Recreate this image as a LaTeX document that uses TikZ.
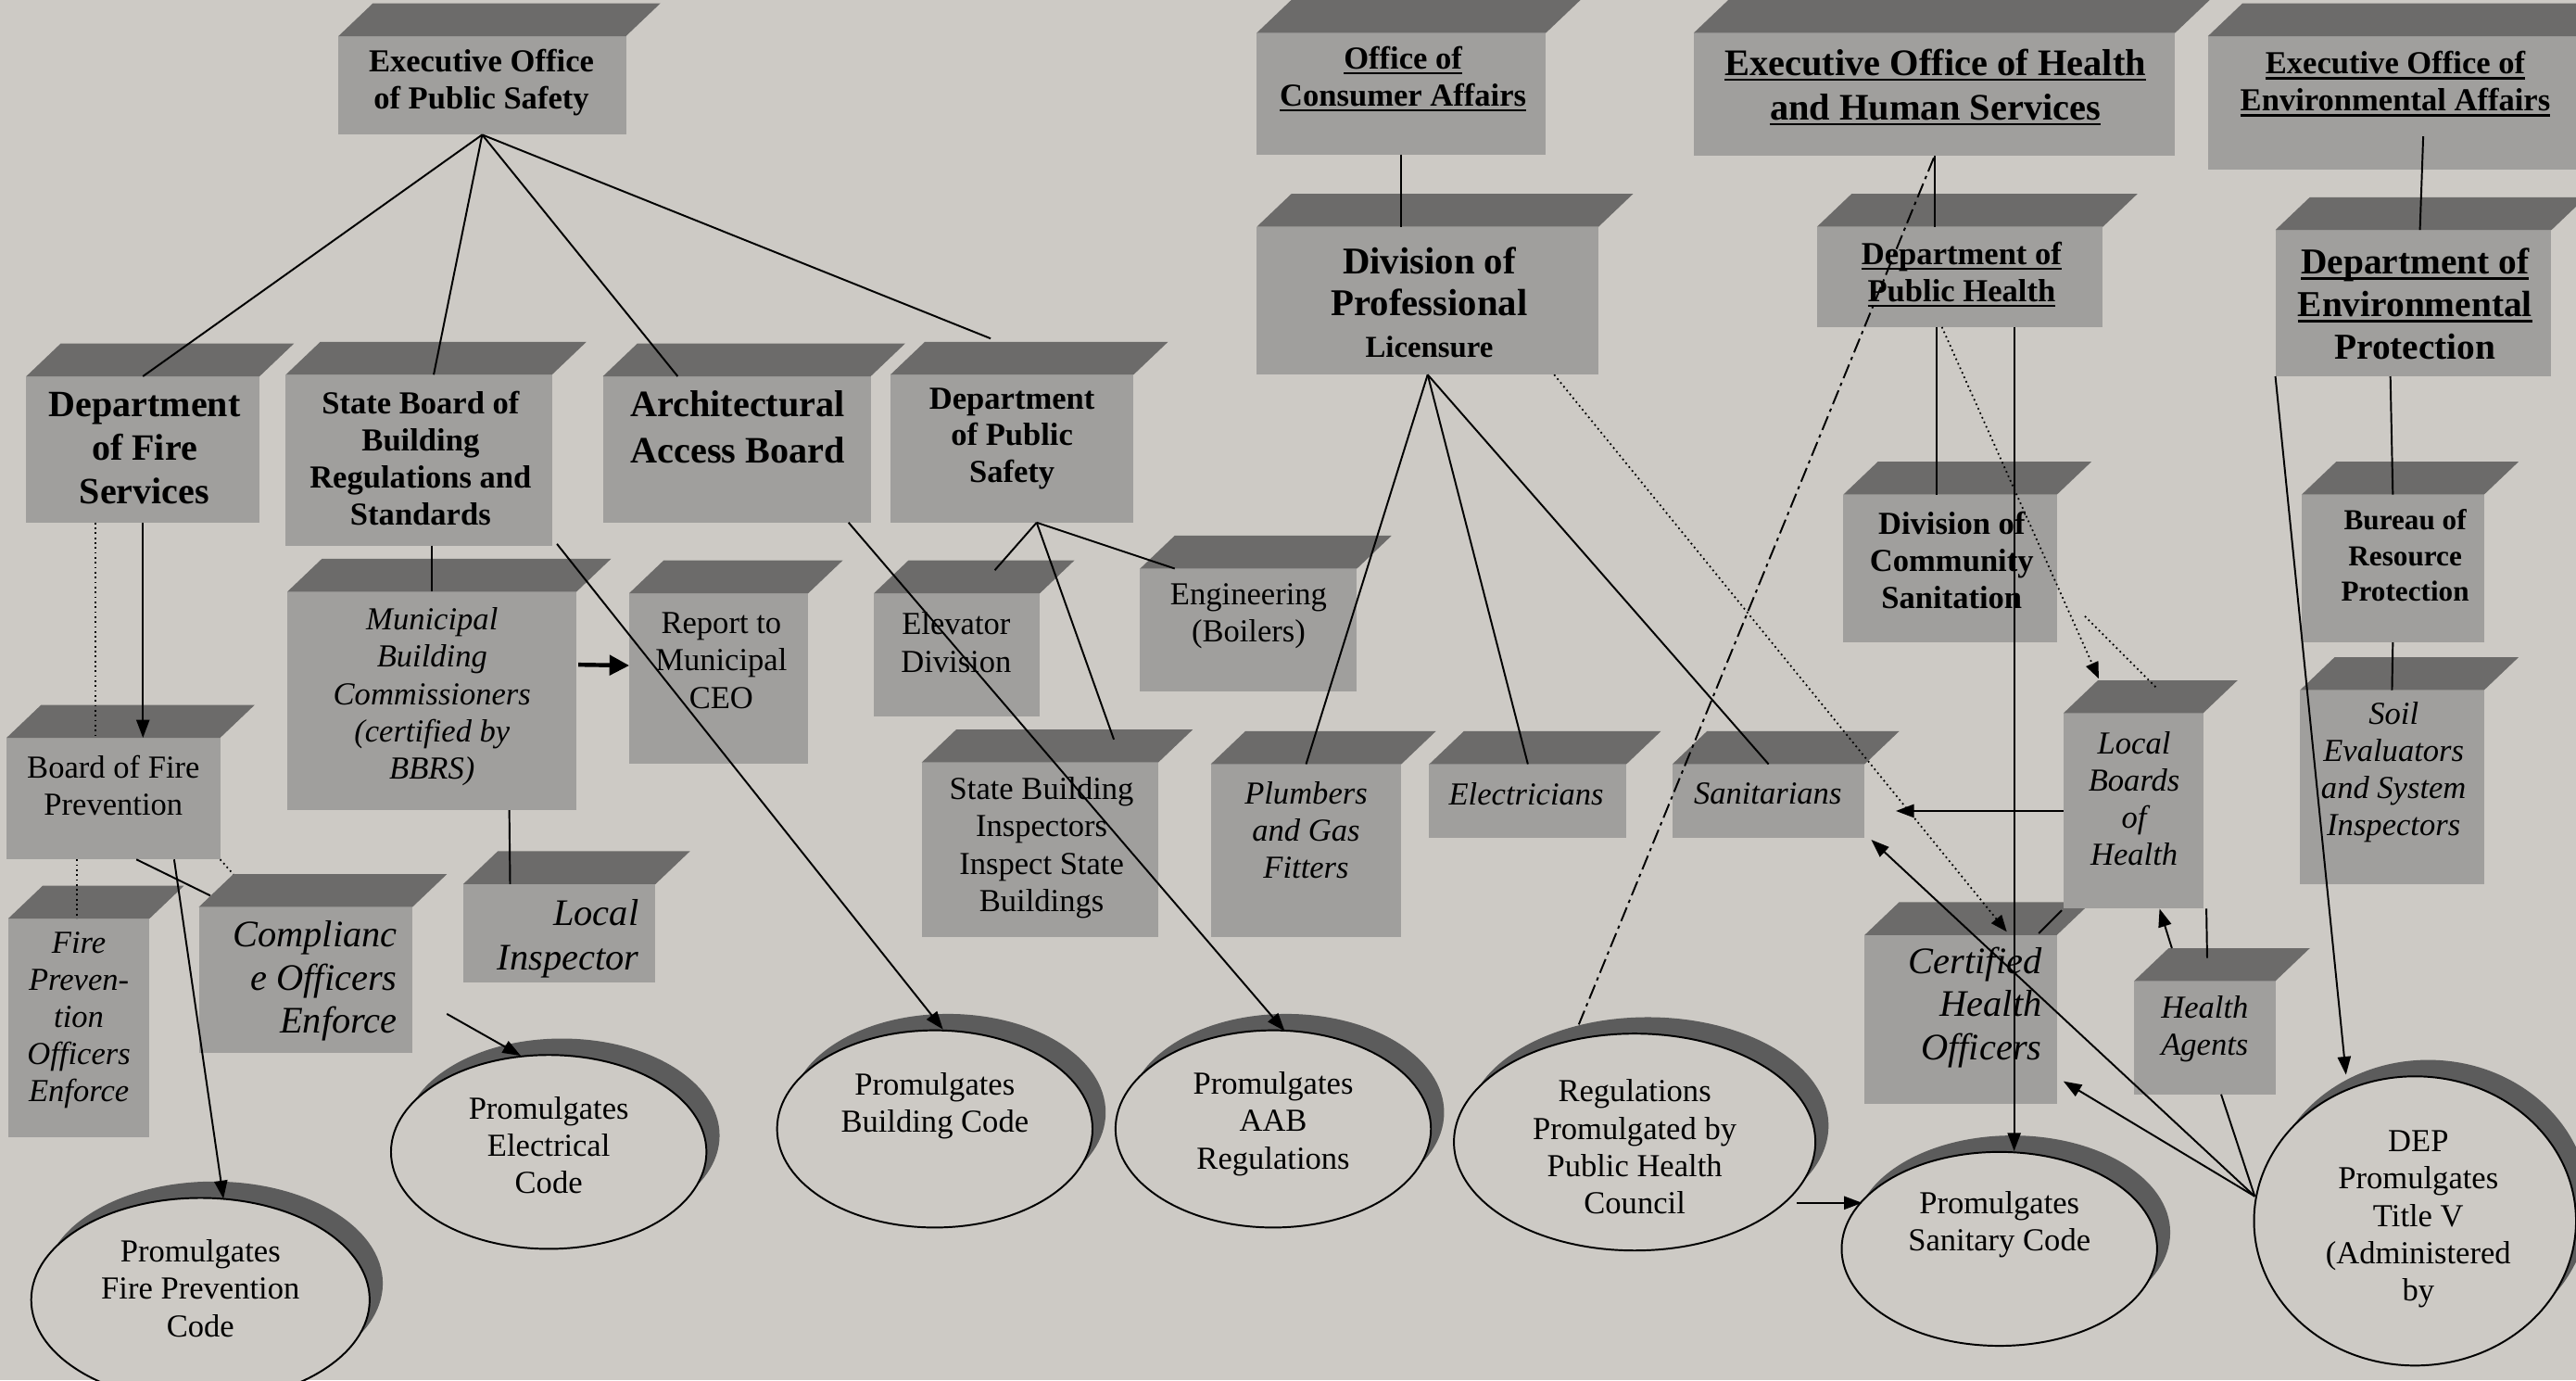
\documentclass[tikz,border=0pt]{standalone}
\usepackage{fontspec}
\setmainfont{Liberation Serif}
\usetikzlibrary{arrows.meta,shapes.geometric,shadows}
\definecolor{bgcol}{RGB}{205,202,197}
\definecolor{frontcol}{RGB}{160,159,157}
\definecolor{topcol}{RGB}{108,107,106}
\definecolor{shadcol}{RGB}{92,92,92}
\newcommand\ulx[1]{\leavevmode\setbox0\hbox{#1}\rlap{\rule[-3.5pt]{\wd0}{1.4pt}}\box0}
\newcommand\mkcube[5]{%
  \node[frontbox, minimum width={(#4-#2)*1pt}, minimum height={(#5-#3)*1pt}] (#1) at ({(#2+#4)/2},{(#3+#5)/2}) {};
  \fill[topcol] (#1.north west) -- ++(21,-20) -- ([shift={(21,-20)}]#1.north east) -- (#1.north east) -- cycle;
}
\begin{document}
\begin{tikzpicture}[x=1pt,y=-1pt,
  frontbox/.style={rectangle, fill=frontcol, inner sep=0pt, outer sep=0pt},
  bt/.style={font=\fontsize{19.5}{22.5}\selectfont\bfseries, align=center, inner sep=0pt},
  btl/.style={font=\fontsize{22.6}{26.5}\selectfont\bfseries, align=center, inner sep=0pt},
  rt/.style={font=\fontsize{19.5}{22.7}\selectfont, align=center, inner sep=0pt},
  itx/.style={font=\fontsize{19.5}{22.6}\selectfont\itshape, align=center, inner sep=0pt},
  itl/.style={font=\fontsize{22.8}{26.3}\selectfont\itshape, align=right, inner sep=0pt},
  ell/.style={ellipse, draw=black, line width=1.1pt, fill=bgcol, inner sep=0pt,
    drop shadow={shadow xshift=8pt, shadow yshift=10pt, fill=shadcol, opacity=1}},
  ln/.style={line width=1.1pt},
  arr/.style={line width=1.1pt, -{Triangle[length=11pt,width=8pt]}},
  arrthick/.style={line width=2.5pt, -{Triangle[length=12pt,width=12pt]}},
  dotln/.style={line width=1pt, dotted},
  dotarr/.style={line width=1pt, dotted, -{Triangle[length=10pt,width=8pt]}},
  dashdot/.style={line width=1.1pt, dash pattern=on 9pt off 3pt on 2pt off 3pt}]
\useasboundingbox (0,0) rectangle (1568,840);
\fill[bgcol] (0,0) rectangle (1568,840);

% boxes
\mkcube{eops}{206}{22}{381}{82}
\mkcube{oca}{765}{20}{941}{94}
\mkcube{eohhs}{1031}{20}{1324}{95}
\mkcube{eoea}{1344}{22}{1572}{103}
\mkcube{dfs}{16}{229}{158}{318}
\mkcube{sbbrs}{174}{228}{336}{332}
\mkcube{aab}{367}{229}{530}{318}
\mkcube{dps}{542}{228}{690}{318}
\mkcube{dpl}{765}{138}{973}{228}
\mkcube{dph}{1106}{138}{1280}{199}
\mkcube{dep}{1385}{140}{1553}{229}
\mkcube{mbc}{175}{360}{351}{493}
\mkcube{rep}{383}{361}{492}{465}
\mkcube{elev}{532}{361}{633}{436}
\mkcube{eng}{694}{346}{826}{421}
\mkcube{bfp}{4}{449}{134}{523}
\mkcube{loc}{282}{538}{399}{598}
\mkcube{fpo}{5}{559}{91}{692}
\mkcube{comp}{121}{552}{251}{641}
\mkcube{sbi}{561}{464}{705}{570}
\mkcube{plum}{737}{465}{853}{570}
\mkcube{elec}{870}{465}{990}{510}
\mkcube{san}{1018}{465}{1135}{510}
\mkcube{dcs}{1122}{301}{1252}{391}
\mkcube{brp}{1401}{301}{1512}{391}
\mkcube{soil}{1400}{420}{1512}{538}
\mkcube{cho}{1135}{569}{1252}{672}
\mkcube{lbh}{1256}{434}{1341}{553}
\mkcube{ha}{1299}{597}{1385}{666}

% ellipses
\node[ell, minimum width=206pt, minimum height=124pt] (fpc) at (122,791) {};
\node[ell, minimum width=192pt, minimum height=118pt] (ec) at (334,701) {};
\node[ell, minimum width=192pt, minimum height=120pt] (bc) at (569,687) {};
\node[ell, minimum width=192pt, minimum height=120pt] (aabr) at (775,687) {};
\node[ell, minimum width=220pt, minimum height=132pt] (reg) at (995,695) {};
\node[ell, minimum width=192pt, minimum height=118pt] (sc) at (1217,760) {};
\node[ell, minimum width=196pt, minimum height=176pt] (depe) at (1470,743) {};

% box texts
\node[bt] (eops-t) at (293,50) {Executive Office\\of Public Safety};
\node[bt] (oca-t) at (854,48) {\ulx{Office of}\\\ulx{Consumer Affairs}};
\node[font=\fontsize{22.8}{27}\selectfont\bfseries, align=center, inner sep=0pt] (eohhs-t) at (1178,53) {\ulx{Executive Office of Health}\\\ulx{and Human Services}};
\node[bt] (eoea-t) at (1458,51) {\ulx{Executive Office of}\\\ulx{Environmental Affairs}};
\node[btl] (dfs-t) at (88,273) {Department\\of Fire\\Services};
\node[bt] (sbbrs-t) at (256,279) {State Board of\\Building\\Regulations and\\Standards};
\node[font=\fontsize{22.7}{28}\selectfont\bfseries, align=center, inner sep=0pt] (aab-t) at (449,260) {Architectural\\Access Board};
\node[bt] (dps-t) at (616,267) {Department\\of Public\\Safety};
\node[align=center, inner sep=0pt, font=\fontsize{23}{25.5}\selectfont\bfseries] (dpl-t) at (870,184) {Division of\\Professional\\{\fontsize{18.5}{25.5}\selectfont Licensure}};
\node[bt] (dph-t) at (1194,167) {\ulx{Department of}\\\ulx{Public Health}};
\node[font=\fontsize{22.2}{26}\selectfont\bfseries, align=center, inner sep=0pt] (dep-t) at (1470,185) {\ulx{Department of}\\\ulx{Environmental}\\Protection};
\node[itx] (mbc-t) at (263,424) {Municipal\\Building\\Commissioners\\(certified by\\BBRS)};
\node[rt] (rep-t) at (439,402) {Report to\\Municipal\\CEO};
\node[rt] (elev-t) at (582,391) {Elevator\\Division};
\node[rt] (eng-t) at (760,375) {Engineering\\(Boilers)};
\node[rt] (bfp-t) at (69,478) {Board of Fire\\Prevention};
\node[itl, anchor=east, font=\fontsize{22.8}{27}\selectfont\itshape] (loc-t) at (389,571) {Local\\Inspector};
\node[itx] (fpo-t) at (48,621) {Fire\\Preven-\\tion\\Officers\\Enforce};
\node[itl, anchor=east] (comp-t) at (242,597) {Complianc\\e Officers\\Enforce};
\node[rt] (sbi-t) at (634,516) {State Building\\Inspectors\\Inspect State\\Buildings};
\node[itx] (plum-t) at (795,505) {Plumbers\\and Gas\\Fitters};
\node[itx] (elec-t) at (929,483) {Electricians};
\node[itx] (san-t) at (1076,483) {Sanitarians};
\node[bt] (dcs-t) at (1188,341) {Division of\\Community\\Sanitation};
\node[font=\fontsize{17.6}{21.5}\selectfont\bfseries, align=center, inner sep=0pt] (brp-t) at (1464,338) {Bureau of\\Resource\\Protection};
\node[itx] (soil-t) at (1457,470) {Soil\\Evaluators\\and System\\Inspectors};
\node[itx] (lbh-t) at (1299,486) {Local\\Boards\\of\\Health};
\node[itl, anchor=east] (cho-t) at (1243,613) {Certified\\Health\\Officers};
\node[itx] (ha-t) at (1342,626) {Health\\Agents};

% ellipse texts
\node[rt] (fpc-t) at (122,784) {Promulgates\\Fire Prevention\\Code};
\node[rt] (ec-t) at (334,697) {Promulgates\\Electrical\\Code};
\node[rt] (bc-t) at (569,673) {Promulgates\\Building Code};
\node[rt] (aabr-t) at (775,684) {Promulgates\\AAB\\Regulations};
\node[rt] (reg-t) at (995,698) {Regulations\\Promulgated by\\Public Health\\Council};
\node[rt] (sc-t) at (1217,745) {Promulgates\\Sanitary Code};
\node[rt] (depe-t) at (1472,742) {DEP\\Promulgates\\Title V\\(Administered\\by};

% connectors: public safety
\draw[ln] (eops.south) -- (dfs.north);
\draw[ln] (eops.south) -- ([shift={(9,0)}]sbbrs.north);
\draw[ln] (eops.south) -- ([shift={(-36,0)}]aab.north);
\draw[ln] (eops.south) -- ([shift={(-13,-22)}]dps.north);
\draw[arr] (dfs.south) -- (dfs.south |- bfp.north);
\coordinate (dA) at ([shift={(-29,0)}]dfs.south);
\draw[dotln] (dA) -- (dA |- bfp.north);
\coordinate (dB) at ([shift={(-22,0)}]bfp.south);
\draw[dotln] (dB) -- (dB |- fpo.north);
\draw[ln] ([shift={(14,0)}]bfp.south) -- ([shift={(7,-7)}]comp.north west);
\draw[dotln] (bfp.south east) -- ([shift={(21,-20)}]comp.north west);
\draw[arr] ([shift={(37,0)}]bfp.south) -- ([shift={(14,1)}]fpc.north);
\draw[ln] (mbc.north |- sbbrs.south) -- (mbc.north);
\draw[arr] ([shift={(3,-1)}]sbbrs.south east) -- ([shift={(5,0)}]bc.north);
\draw[arrthick] ([shift={(1,-22)}]mbc.east) -- ([shift={(0,-8)}]rep.west);
\draw[ln] ([shift={(47,0)}]mbc.south) -- ([shift={(-30,0)}]loc.north);
\coordinate (ecsrc) at (272,617);
\draw[arr] (ecsrc) -- ([shift={(-17,1)}]ec.north);
\draw[arr] ([shift={(68,0)}]aab.south) -- ([shift={(7,1)}]aabr.north);
\draw[ln] ([shift={(15,0)}]dps.south) -- ([shift={(23,-14)}]elev.north);
\draw[ln] ([shift={(15,0)}]dps.south) -- ([shift={(45,-14)}]sbi.north);
\draw[ln] ([shift={(15,0)}]dps.south) -- ([shift={(21,0)}]eng.north west);

% consumer affairs
\draw[ln] (oca.south) -- (oca.south |- dpl.north);
\draw[ln] (dpl.south) -- (plum.north);
\draw[ln] (dpl.south) -- (elec.north);
\draw[ln] (dpl.south) -- (san.north);
\draw[dotarr] ([shift={(-27,0)}]dpl.south east) -- ([shift={(28,-2)}]cho.north);

% health
\draw[ln] (eohhs.south) -- (eohhs.south |- dph.north);
\draw[dashdot] ([shift={(-34,-5)}]reg.north) -- (eohhs.south);
\draw[ln] ([shift={(-14,0)}]dph.south) -- ([shift={(-8,0)}]dcs.north);
\draw[arr] ([shift={(33,0)}]dph.south) -- ([shift={(9,0)}]sc.north);
\draw[dotarr] ([shift={(-11,0)}]dph.south) -- ([shift={(-21,-21)}]lbh.north);
\coordinate (dC1) at (1269,375);
\coordinate (dC2) at (1313,419);
\draw[dotln] (dC1) -- (dC2);
\coordinate (sanarr) at ([shift={(19,0)}]san.east);
\draw[arr] (lbh.west) -- (sanarr |- lbh.west);
\draw[arr] ([shift={(-20,-20)}]ha.north) -- ([shift={(16,0)}]lbh.south);
\draw[ln] ([shift={(1.5,-14)}]ha.north) -- ([shift={(44.5,0)}]lbh.south);
\draw[ln] ([shift={(-11,-1)}]cho.north east) -- ([shift={(-1,1)}]lbh.south west);
\draw[arr] ([shift={(-12,37)}]reg.east) -- ([shift={(13,-28)}]sc.west);

% environmental
\draw[ln] ([shift={(17,-20)}]eoea.south) -- ([shift={(4,0)}]dep.north);
\draw[ln] ([shift={(-14,0)}]dep.south) -- (brp.north);
\draw[ln] (brp.south) -- (soil.north);
\draw[arr] (dep.south west) -- ([shift={(-42,-89)}]depe.center);
\coordinate (depL) at ([shift={(1,-15)}]depe.west);
\draw[arr] (depL) -- ([shift={(4,-14)}]cho.south east);
\draw[arr] (depL) -- ([shift={(4,1)}]san.south east);
\draw[ln] ([shift={(10,0)}]ha.south) -- (depL);
\end{tikzpicture}
\end{document}
